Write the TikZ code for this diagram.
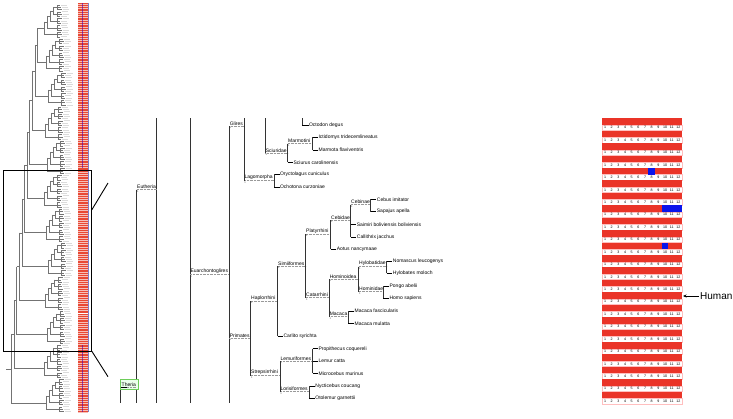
\documentclass[tikz,border=0pt]{standalone}
\usepackage{fontspec}
\setmainfont{Liberation Sans}
\usetikzlibrary{arrows.meta}
\definecolor{gridred}{RGB}{234,52,40}
\definecolor{hmred}{RGB}{232,72,52}
\definecolor{gridblue}{RGB}{10,20,235}
\definecolor{theriagreen}{RGB}{110,205,90}
\tikzset{
 vl/.style={line width=0.9pt, black!80},
 leafl/.style={line width=0.8pt, black},
 dotl/.style={line width=0.45pt, black!40, dash pattern=on 0.5pt off 0.9pt},
 ilbl/.style={font=\fontsize{5}{5}\selectfont, anchor=south west, inner sep=0.3pt},
 leaf/.style={font=\fontsize{5}{5}\selectfont, anchor=west, inner sep=0.4pt},
 onetick/.style={font=\fontsize{2.6}{2.6}\selectfont, anchor=north west, inner sep=0.2pt, text=black!70},
 thumb/.style={line width=0.3pt, black!55},
 thumblbl/.style={line width=0.7pt, black!14},
 num/.style={font=\fontsize{3.6}{3.6}\selectfont, inner sep=0pt},
 arr/.style={-{Stealth[length=3.5pt,width=3pt]}, line width=0.6pt},
}
\newcommand{\mkinner}[5]{%
  \coordinate (#1-p) at (#3,#4);
  \coordinate (#1) at (#5,#4);
  \draw[dotl] (#1-p) -- (#1);
  \node[ilbl] (#1-lbl) at ([yshift=0.3pt]#1-p) {#2};
  \node[onetick] (#1-one) at ([yshift=-0.5pt]#1-p) {1};
}
\newcommand{\mkleaf}[5]{%
  \coordinate (#1-p) at (#3,#4);
  \node[leaf] (#1) at (#5,#4) {#2};
  \draw[leafl] (#1-p) -- (#1.west);
}
\begin{document}
\begin{tikzpicture}[x=1pt,y=-1pt]
\useasboundingbox (0,0) rectangle (733,418);
\fill[white] (0,0) rectangle (733,418);

% ---------------- thumbnail tree (left) ----------------
\def\lg{2.27}
\xdef\bbx{0}\xdef\bby{0}
\foreach \c in {0,...,11}{
  \pgfmathsetmacro{\ytop}{5+\c*15*\lg}
  \pgfmathsetmacro{\tx}{57+mod(\c*7,5)}
  \foreach \t in {0,...,4}{
    \pgfmathsetmacro{\ya}{\ytop+3*\t*\lg}
    \pgfmathsetmacro{\yb}{\ya+2*\lg}
    \draw[thumb] (\tx,\ya) -- (\tx,\yb);
    \foreach \l in {0,1,2}{
      \pgfmathsetmacro{\yl}{\ya+\l*\lg}
      \pgfmathsetmacro{\xe}{\tx+3+mod(\l+\t+\c,3)}
      \draw[thumb] (\tx,\yl) -- (\xe,\yl);
      \draw[thumblbl] (\xe+1,\yl) -- ++(6,0);
    }
  }
  \pgfmathsetmacro{\ry}{\ytop+\lg}
  \xdef\runy{\ry}\xdef\runx{\tx}
  \foreach \t in {1,...,4}{
    \pgfmathsetmacro{\mt}{\ytop+(3*\t+1)*\lg}
    \pgfmathsetmacro{\xj}{\tx-3*\t-1}
    \draw[thumb] (\xj,\runy) -- (\xj,\mt) -- (\tx,\mt);
    \draw[thumb] (\xj,\runy) -- (\runx,\runy);
    \pgfmathsetmacro{\ny}{(\runy+\mt)/2}
    \xdef\runy{\ny}\xdef\runx{\xj}
  }
  \ifnum\c=0
    \xdef\bby{\runy}\xdef\bbx{\runx}
  \else
    \pgfmathsetmacro{\bx}{40-2.6*\c}
    \draw[thumb] (\bx,\bby) -- (\bx,\runy) -- (\runx,\runy);
    \draw[thumb] (\bx,\bby) -- (\bbx,\bby);
    \pgfmathsetmacro{\nb}{(\bby+\runy)/2}
    \xdef\bby{\nb}\xdef\bbx{\bx}
  \fi
}
\draw[thumb] (\bbx,\bby) -- (6,\bby);

% heatmap column
\fill[hmred] (78,3) rectangle (88,412);
\foreach \i in {0,...,180}{
  \draw[white!65!hmred, line width=0.3pt] (78,{4+\i*2.27}) -- (88,{4+\i*2.27});
}
\draw[blue!70!red, line width=0.5pt, opacity=0.6] (82.5,3) -- (82.5,168);
\draw[blue!70!red, line width=0.5pt, opacity=0.6] (82.5,345) -- (82.5,412);
\draw[blue!60!black, line width=0.3pt, opacity=0.5] (88,3) -- (88,412);
\draw[white, line width=0.8pt] (78,313) -- (88,313);

% zoom box and its lines
\coordinate (zb-nw) at (3.3,170.7);
\coordinate (zb-se) at (91.7,351);
\draw[line width=1pt] (zb-nw) rectangle (zb-se);
\coordinate (zl1a) at (91.7,210); \coordinate (zl1b) at (108,183);
\coordinate (zl2a) at (91.7,351); \coordinate (zl2b) at (108,376.7);
\draw[line width=0.9pt] (zl1a) -- (zl1b);
\draw[line width=0.9pt] (zl2a) -- (zl2b);

% ---------------- main tree ----------------
\coordinate (top157) at (156.7,118); \coordinate (bot157) at (156.7,403);
\draw[vl] (top157) -- (bot157);
\coordinate (top190) at (190,118); \coordinate (bot190) at (190,403);
\draw[vl] (top190) -- (bot190);
\mkinner{eut}{Eutheria}{136.7}{189.5}{156.7}
\coordinate (bot137) at (136.7,403);
\draw[vl] (eut-p) -- (bot137);

% Theria
\draw[fill=green!8, draw=theriagreen, line width=0.8pt] (120.7,379) rectangle (138.3,389.8);
\coordinate (ther-p) at (121.2,387.3);
\coordinate (ther-m) at (127,387.3);
\coordinate (ther) at (136.7,387.3);
\node[ilbl] (theria) at ([yshift=0.2pt]ther-p) {Theria};
\draw[leafl] (ther-p) -- (ther-m);
\draw[dotl] (ther-m) -- (ther);
\coordinate (ther-bot) at (120.7,403);
\draw[vl] (120.7,389.8) -- (ther-bot);

% Euarchontoglires
\mkinner{euar}{Euarchontoglires}{190}{274.5}{229.3}
\mkinner{glires}{Glires}{229.3}{126}{244}
\coordinate (bot229) at (229.3,403);
\draw[vl] (glires-p) -- (bot229);

% rodents
\mkleaf{octo}{Octodon degus}{302.3}{125}{308.5}
\coordinate (top302) at (302.3,118);
\draw[vl] (top302) -- (octo-p);
\mkinner{marm}{Marmotini}{287.7}{143.5}{312.7}
\mkleaf{icti}{Ictidomys tridecemlineatus}{312.7}{137}{318}
\mkleaf{marmota}{Marmota flaviventris}{312.7}{150}{318}
\draw[vl] (icti-p) -- (marmota-p);
\mkinner{sciur}{Sciuridae}{265.3}{153}{287.7}
\mkleaf{sciurus}{Sciurus carolinensis}{287.7}{162.3}{293}
\draw[vl] (marm-p) -- (sciurus-p);
\coordinate (top265) at (265.3,118);
\draw[vl] (top265) -- (sciur-p);
\mkinner{lago}{Lagomorpha}{244}{180.5}{274}
\coordinate (top244) at (244,118);
\draw[vl] (top244) -- (lago-p);
\mkleaf{oryc}{Oryctolagus cuniculus}{274}{174}{279.5}
\mkleaf{ocho}{Ochotona curzoniae}{274}{187}{279.5}
\draw[vl] (oryc-p) -- (ocho-p);

% primates
\mkinner{prim}{Primates}{229.3}{338}{250.7}
\mkinner{haplo}{Haplorrhini}{250.7}{301}{277.7}
\mkinner{strep}{Strepsirrhini}{250.7}{375.5}{280}
\draw[vl] (haplo-p) -- (strep-p);
\mkinner{simi}{Simiiformes}{277.7}{266}{305.7}
\mkleaf{carlito}{Carlito syrichta}{277.7}{336}{283}
\draw[vl] (simi-p) -- (carlito-p);
\mkinner{platy}{Platyrrhini}{305.7}{234}{330.7}
\mkinner{cata}{Catarrhini}{305.7}{297.5}{329.3}
\draw[vl] (platy-p) -- (cata-p);
\mkinner{cebid}{Cebidae}{330.7}{220}{350.7}
\mkleaf{aotus}{Aotus nancymaae}{330.7}{249.3}{336.3}
\draw[vl] (cebid-p) -- (aotus-p);
\mkinner{cebin}{Cebinae}{350.7}{204.5}{370.7}
\mkleaf{saimiri}{Saimiri boliviensis boliviensis}{350.7}{224.3}{356.3}
\mkleaf{calli}{Callithrix jacchus}{350.7}{237.3}{356.3}
\draw[vl] (cebin-p) -- (calli-p);
\mkleaf{cebus}{Cebus imitator}{370.7}{199.3}{376.3}
\mkleaf{sapajus}{Sapajus apella}{370.7}{211.7}{376.3}
\draw[vl] (cebus-p) -- (sapajus-p);
\mkinner{homoid}{Hominoidea}{329.3}{279}{358.7}
\mkinner{macaca}{Macaca}{329.3}{316.5}{348.3}
\draw[vl] (homoid-p) -- (macaca-p);
\mkinner{hylo}{Hylobatidae}{358.7}{266.5}{386.7}
\mkinner{homid}{Hominidae}{358.7}{291.5}{383.3}
\draw[vl] (hylo-p) -- (homid-p);
\mkleaf{nomascus}{Nomascus leucogenys}{386.7}{261}{392.3}
\mkleaf{hylobates}{Hylobates moloch}{386.7}{273.3}{392.3}
\draw[vl] (nomascus-p) -- (hylobates-p);
\mkleaf{pongo}{Pongo abelii}{383.3}{286}{389}
\mkleaf{homo}{Homo sapiens}{383.3}{298.3}{389}
\draw[vl] (pongo-p) -- (homo-p);
\mkleaf{mfas}{Macaca fascicularis}{348.3}{311}{354}
\mkleaf{mmul}{Macaca mulatta}{348.3}{323.3}{354}
\draw[vl] (mfas-p) -- (mmul-p);
\mkinner{lemur}{Lemuriformes}{280}{361}{312.7}
\mkinner{loris}{Lorisiformes}{280}{391.5}{309.3}
\draw[vl] (lemur-p) -- (loris-p);
\mkleaf{prop}{Propithecus coquereli}{312.7}{348.7}{318}
\mkleaf{lcatta}{Lemur catta}{312.7}{361}{318}
\mkleaf{micro}{Microcebus murinus}{312.7}{373.3}{318}
\draw[vl] (prop-p) -- (micro-p);
\mkleaf{nyct}{Nycticebus coucang}{309.3}{386}{314.8}
\mkleaf{otol}{Otolemur garnettii}{309.3}{398.3}{314.8}
\draw[vl] (nyct-p) -- (otol-p);

% ---------------- domain grid (right) ----------------
\foreach \r in {0,...,22}{
  \pgfmathsetmacro{\yt}{118.3+12.43*\r}
  \fill[gridred] (601.7,\yt) rectangle (681.7,\yt+6.6);
  \draw[red!25, line width=0.25pt] (601.7,\yt+6.6) rectangle (681.7,\yt+12.1);
  \foreach \j in {1,...,12}{
    \node[num] (n\r-\j) at ({601.7+(\j-0.5)*6.667},\yt+9.4) {\j};
  }
}
\fill[gridblue] (648.4,168.0) rectangle (655.0,174.6);
\fill[gridblue] (661.7,205.3) rectangle (681.7,211.9);
\fill[gridblue] (661.7,242.6) rectangle (668.4,249.2);

% Human pointer
\node[font=\fontsize{10}{10}\selectfont, anchor=west, inner sep=0pt] (human) at (700,296) {Human};
\coordinate (hrow) at (683,296);
\draw[arr] ([xshift=-1.5pt]human.west) -- (hrow);
\end{tikzpicture}
\end{document}
